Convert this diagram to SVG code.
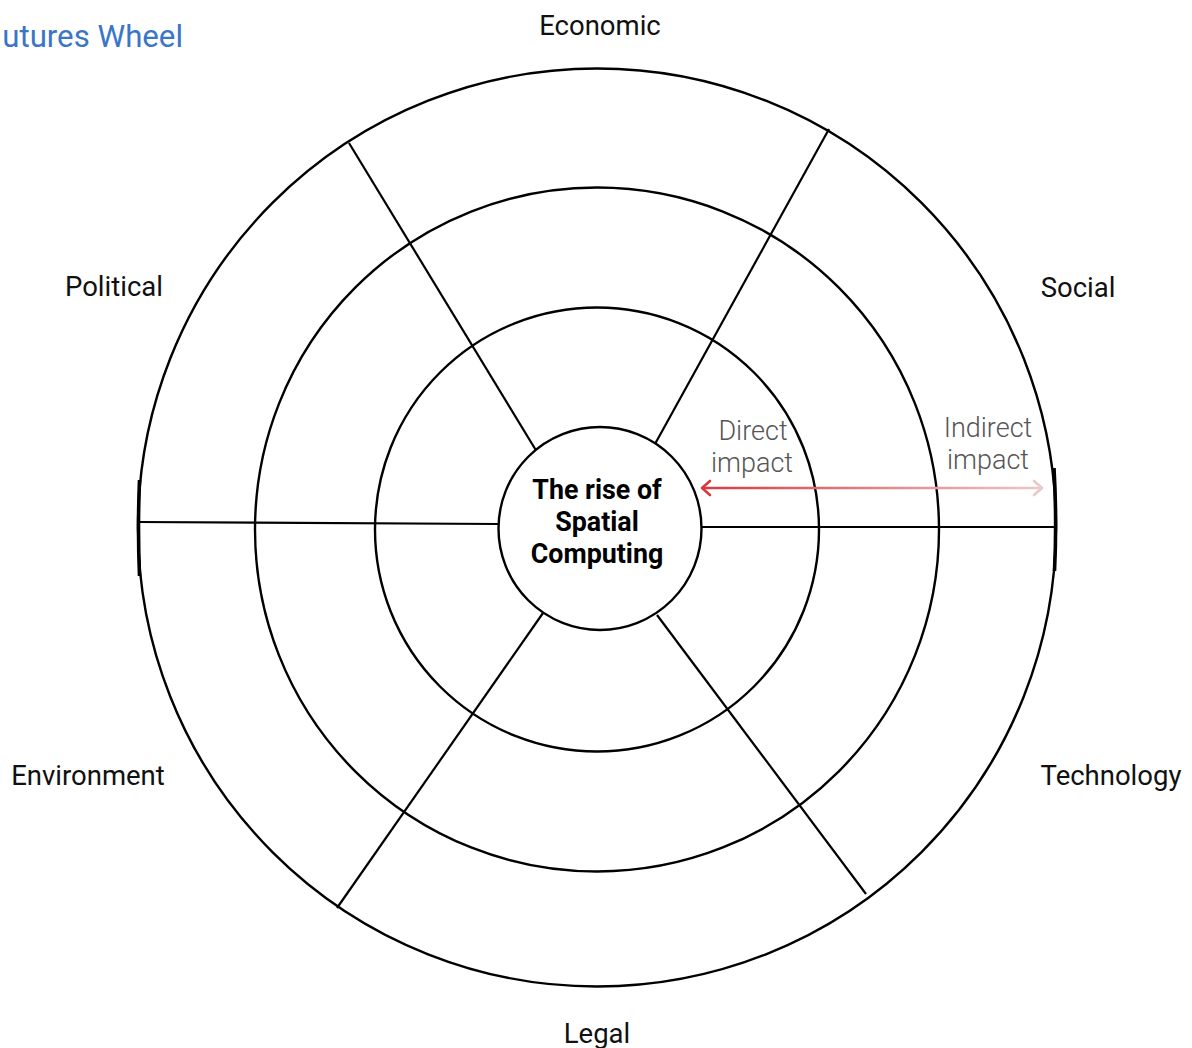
<svg xmlns="http://www.w3.org/2000/svg" width="1192" height="1048" viewBox="0 0 1192 1048">
  <style>
    .ring { fill: none; stroke: #000; stroke-width: 2.4; }
    .spoke { stroke: #000; stroke-width: 2.2; fill: none; }
    .label { font-family: Roboto, "Liberation Sans", sans-serif; font-size: 27.5px; fill: #111; text-anchor: middle; }
    .hub { font-family: Roboto, "Liberation Sans", sans-serif; font-size: 26.8px; font-weight: 700; fill: #000; text-anchor: middle; }
    .note { font-family: Roboto, "Liberation Sans", sans-serif; font-size: 27px; font-weight: 300; fill: #555; text-anchor: middle; }
    .title { font-family: Roboto, "Liberation Sans", sans-serif; font-size: 31.2px; fill: #3a75c8; text-anchor: end; }
  </style>
  <defs>
    <linearGradient id="impactGrad" x1="701" y1="0" x2="1043" y2="0" gradientUnits="userSpaceOnUse">
      <stop offset="0" stop-color="#d9383f"/>
      <stop offset="1" stop-color="#ecc9c9"/>
    </linearGradient>
  </defs>
  <rect width="1192" height="1048" fill="#fff"/>

  <text class="title" x="183" y="47">utures Wheel</text>

  <!-- rings -->
  <g id="rings">
    <circle id="ring-outer" class="ring" cx="597" cy="527.5" r="459"/>
    <circle id="ring-indirect" class="ring" cx="597" cy="529.5" r="342"/>
    <circle id="ring-direct" class="ring" cx="597" cy="529.5" r="222"/>
    <!-- heavier stroke where the horizontal spokes meet the rim -->
    <path d="M 139.5 480 Q 137.5 528 139.5 576" fill="none" stroke="#000" stroke-width="3.6"/>
    <path d="M 1054 468 Q 1057 520 1054.5 571" fill="none" stroke="#000" stroke-width="3.6"/>
  </g>

  <!-- spokes dividing the wheel into six sectors -->
  <g id="connectors">
    <line class="spoke" x1="349" y1="143" x2="537" y2="452"/>
    <line class="spoke" x1="829" y1="129" x2="655" y2="444"/>
    <line class="spoke" x1="701" y1="527" x2="1056" y2="527"/>
    <line class="spoke" x1="138" y1="522" x2="499" y2="524"/>
    <line class="spoke" x1="543" y1="613" x2="337" y2="908"/>
    <line class="spoke" x1="657" y1="615" x2="866" y2="894"/>
    <!-- impact arrow -->
    <g id="impact-arrow" fill="none" stroke-width="2.6" stroke-linecap="round" stroke-linejoin="round">
      <line x1="703" y1="488" x2="1041" y2="488" stroke="url(#impactGrad)"/>
      <polyline points="710,481 702,488 710,495" stroke="#d9383f"/>
      <polyline points="1034,481 1042,488 1034,495" stroke="#ecc9c9"/>
    </g>
  </g>

  <!-- central topic -->
  <g id="hub">
    <circle cx="600" cy="528.5" r="101.5" fill="#fff" stroke="#000" stroke-width="2.4"/>
    <text class="hub" x="597" y="499">The rise of</text>
    <text class="hub" x="597" y="531">Spatial</text>
    <text class="hub" x="597" y="563">Computing</text>
  </g>

  <g id="note-direct">
    <text class="note" x="753" y="440">Direct</text>
    <text class="note" x="752" y="472">impact</text>
  </g>
  <g id="note-indirect">
    <text class="note" x="988" y="437">Indirect</text>
    <text class="note" x="988" y="469">impact</text>
  </g>

  <!-- sector labels -->
  <g id="label-economic"><text class="label" x="600" y="35">Economic</text></g>
  <g id="label-political"><text class="label" x="114" y="296">Political</text></g>
  <g id="label-social"><text class="label" x="1078" y="297">Social</text></g>
  <g id="label-environment"><text class="label" x="88" y="785">Environment</text></g>
  <g id="label-technology"><text class="label" x="1111" y="785">Technology</text></g>
  <g id="label-legal"><text class="label" x="597" y="1043">Legal</text></g>
</svg>
